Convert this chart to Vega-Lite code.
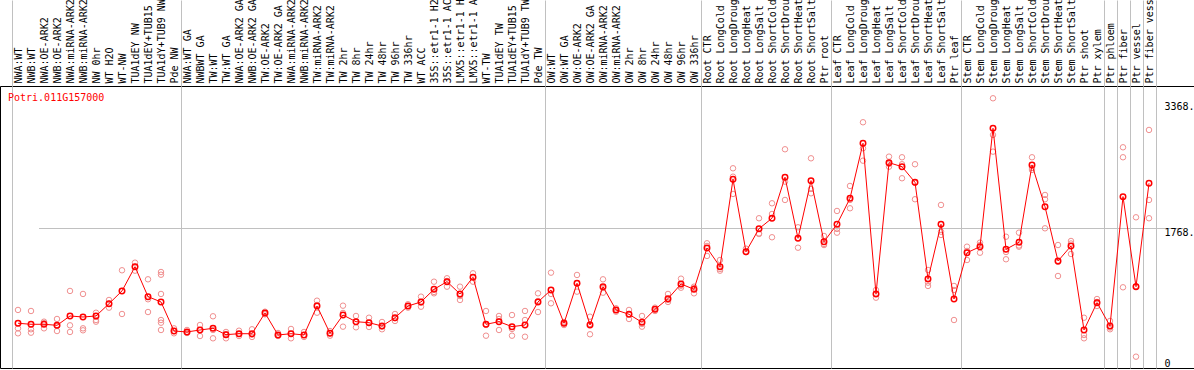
{
  "$schema": "https://vega.github.io/schema/vega-lite/v6.json",
  "width": 1194,
  "height": 282,
  "autosize": "none",
  "padding": {"top": 86, "left": 0, "right": 0, "bottom": 2},
  "background": "white",
  "config": {
    "view": {"stroke": "black", "strokeWidth": 1},
    "font": "DejaVu Sans Mono",
    "axis": {"labelFont": "DejaVu Sans Mono", "labelFontSize": 10, "labelColor": "black"}
  },
  "title": {
    "text": "Potri.011G157000",
    "color": "#ff0000",
    "font": "DejaVu Sans Mono",
    "fontSize": 10,
    "fontWeight": "normal",
    "anchor": "start",
    "frame": "group",
    "baseline": "middle",
    "offset": 0,
    "dx": 8,
    "dy": 127
  },
  "data": {
    "values": [
      {"k": "01|NWA:WT", "v": 565, "reps": [733, 501, 438]},
      {"k": "02|NWB:WT", "v": 552, "reps": [720, 489, 446]},
      {"k": "03|NWA:OE-ARK2", "v": 552, "reps": [585, 501, 568]},
      {"k": "04|NWB:OE-ARK2", "v": 539, "reps": [619, 467, 530]},
      {"k": "05|NWA:miRNA-ARK2", "v": 657, "reps": [973, 539, 455]},
      {"k": "06|NWB:miRNA-ARK2", "v": 644, "reps": [935, 501, 476]},
      {"k": "07|NW 0hr", "v": 657, "reps": [698, 606, 585]},
      {"k": "08|WT H2O", "v": 812, "reps": [762, 812, 859]},
      {"k": "09|WT-NW", "v": 973, "reps": [1234, 682, 973]},
      {"k": "10|TUA1dEY NW", "v": 1279, "reps": [1330, 1279, 1229]},
      {"k": "11|TUA1dEY+TUB15 NW", "v": 901, "reps": [1120, 707, 868]},
      {"k": "12|TUA1dY+TUB9 NW", "v": 834, "reps": [1212, 1178, 935, 606, 572, 480]},
      {"k": "13|Pde NW", "v": 467, "reps": [501, 438, 467]},
      {"k": "14|NWA:WT GA", "v": 455, "reps": [480, 442, 455]},
      {"k": "15|NWBWT GA", "v": 480, "reps": [543, 404, 480]},
      {"k": "16|TW:WT", "v": 501, "reps": [653, 375, 480]},
      {"k": "17|TW:WT GA", "v": 421, "reps": [455, 375, 429]},
      {"k": "18|NWA:OE-ARK2 GA", "v": 433, "reps": [471, 404, 429]},
      {"k": "19|NWB:OE-ARK2 GA", "v": 433, "reps": [489, 392, 421]},
      {"k": "20|TW:OE-ARK2", "v": 695, "reps": [711, 695, 678]},
      {"k": "21|TW:OE-ARK2 GA", "v": 417, "reps": [442, 404, 417]},
      {"k": "22|NWA:miRNA-ARK2", "v": 433, "reps": [493, 375, 433]},
      {"k": "23|NWB:miRNA-ARK2", "v": 417, "reps": [455, 392, 417]},
      {"k": "24|TW:miRNA-ARK2", "v": 783, "reps": [850, 698, 796]},
      {"k": "25|TW:miRNA-ARK2", "v": 438, "reps": [467, 408, 438]},
      {"k": "26|TW 2hr", "v": 669, "reps": [787, 522, 695]},
      {"k": "27|TW 8hr", "v": 585, "reps": [657, 514, 581]},
      {"k": "28|TW 24hr", "v": 572, "reps": [635, 518, 568]},
      {"k": "29|TW 48hr", "v": 530, "reps": [581, 489, 524]},
      {"k": "30|TW 96hr", "v": 635, "reps": [682, 594, 630]},
      {"k": "31|TW 336hr", "v": 783, "reps": [805, 762, 783]},
      {"k": "32|WT ACC", "v": 834, "reps": [901, 774, 827]},
      {"k": "33|35S::etr1-1 H2O", "v": 994, "reps": [1090, 943, 960]},
      {"k": "34|35S::etr1-1 ACC", "v": 1090, "reps": [1133, 1027, 1099]},
      {"k": "35|LMX5::etr1-1 H2O", "v": 935, "reps": [1027, 859, 909]},
      {"k": "36|LMX5::etr1-1 ACC", "v": 1146, "reps": [1196, 1090, 1149]},
      {"k": "37|WT-TW", "v": 552, "reps": [720, 408, 543]},
      {"k": "38|TUA1dEY TW", "v": 585, "reps": [657, 480, 619]},
      {"k": "39|TUA1dEY+TUB15 TW", "v": 522, "reps": [669, 408, 493]},
      {"k": "40|TUA1dY+TUB9 TW", "v": 543, "reps": [720, 606, 395]},
      {"k": "41|Pde TW", "v": 834, "reps": [943, 707, 846]},
      {"k": "42|OW:WT", "v": 985, "reps": [1204, 817, 935]},
      {"k": "43|OW:WT GA", "v": 565, "reps": [581, 543, 565]},
      {"k": "44|OW:OE-ARK2", "v": 1070, "reps": [1175, 964, 1070]},
      {"k": "45|OW:OE-ARK2 GA", "v": 543, "reps": [648, 426, 556]},
      {"k": "46|OW:miRNA-ARK2", "v": 1027, "reps": [1120, 951, 1010]},
      {"k": "47|OW:miRNA-ARK2", "v": 733, "reps": [754, 711, 733]},
      {"k": "48|OW 2hr", "v": 678, "reps": [733, 619, 682]},
      {"k": "49|OW 8hr", "v": 577, "reps": [657, 522, 556]},
      {"k": "50|OW 24hr", "v": 741, "reps": [762, 720, 741]},
      {"k": "51|OW 48hr", "v": 875, "reps": [935, 859, 834]},
      {"k": "52|OW 96hr", "v": 1061, "reps": [1128, 1039, 1014]},
      {"k": "53|OW 336hr", "v": 994, "reps": [1027, 943, 1010]},
      {"k": "54|Root CTR", "v": 1516, "reps": [1575, 1415, 1541]},
      {"k": "55|Root LongCold", "v": 1279, "reps": [1364, 1229, 1250]},
      {"k": "56|Root LongDrought", "v": 2383, "reps": [2522, 2416, 2198]},
      {"k": "57|Root LongHeat", "v": 1469, "reps": [1507, 1461, 1469]},
      {"k": "58|Root LongSalt", "v": 1759, "reps": [1891, 1701, 1692]},
      {"k": "59|Root ShortCold", "v": 1891, "reps": [2080, 1945, 1651]},
      {"k": "60|Root ShortDrought", "v": 2409, "reps": [2762, 2353, 2122]},
      {"k": "61|Root ShortHeat", "v": 1638, "reps": [1777, 1519, 1642]},
      {"k": "62|Root ShortSalt", "v": 2366, "reps": [2648, 2261, 2206]},
      {"k": "63|Ptr root", "v": 1595, "reps": [1667, 1553, 1566]},
      {"k": "64|Leaf CTR", "v": 1815, "reps": [1983, 1709, 1756]},
      {"k": "65|Leaf LongCold", "v": 2143, "reps": [2299, 2017, 2122]},
      {"k": "66|Leaf LongDrought", "v": 2838, "reps": [3103, 2775, 2618]},
      {"k": "67|Leaf LongHeat", "v": 935, "reps": [985, 888, 935]},
      {"k": "68|Leaf LongSalt", "v": 2593, "reps": [2669, 2542, 2577]},
      {"k": "69|Leaf ShortCold", "v": 2542, "reps": [2661, 2396, 2573]},
      {"k": "70|Leaf ShortDrought", "v": 2345, "reps": [2573, 2131, 2337]},
      {"k": "71|Leaf ShortHeat", "v": 1124, "reps": [1238, 1078, 1036]},
      {"k": "72|Leaf ShortSalt", "v": 1815, "reps": [2059, 1721, 1680]},
      {"k": "73|Ptr leaf", "v": 871, "reps": [1036, 985, 606]},
      {"k": "74|Stem CTR", "v": 1456, "reps": [1532, 1364, 1478]},
      {"k": "75|Stem LongCold", "v": 1532, "reps": [1583, 1456, 1553]},
      {"k": "76|Stem LongDrought", "v": 3027, "reps": [3406, 2943, 2732]},
      {"k": "77|Stem LongHeat", "v": 1499, "reps": [1658, 1373, 1465]},
      {"k": "78|Stem LongSalt", "v": 1588, "reps": [1709, 1532, 1547]},
      {"k": "79|Stem ShortCold", "v": 2564, "reps": [2661, 2501, 2526]},
      {"k": "80|Stem ShortDrought", "v": 2037, "reps": [2185, 2131, 1764]},
      {"k": "81|Stem ShortHeat", "v": 1351, "reps": [1553, 1162, 1339]},
      {"k": "82|Stem ShortSalt", "v": 1541, "reps": [1604, 1440, 1572]},
      {"k": "83|Ptr shoot", "v": 480, "reps": [635, 417, 375]},
      {"k": "84|Ptr xylem", "v": 825, "reps": [871, 834, 783]},
      {"k": "85|Ptr phloem", "v": 530, "reps": [594, 489, 511]},
      {"k": "86|Ptr fiber", "v": 2164, "reps": [2787, 2661, 1019]},
      {"k": "87|Ptr vessel", "v": 1027, "reps": [1903, 143, 1035]},
      {"k": "88|Ptr fiber vessel", "v": 2333, "reps": [3006, 2122, 1891]}
    ]
  },
  "encoding": {
    "x": {
      "field": "k",
      "type": "nominal",
      "scale": {"type": "band", "range": [11.5, 1155.5], "paddingInner": 0, "paddingOuter": 0},
      "axis": {
        "orient": "top",
        "title": null,
        "labelAngle": -90,
        "labelAlign": "left",
        "labelBaseline": "middle",
        "labelPadding": -83,
        "labelLimit": 300,
        "labelOverlap": false,
        "labelBound": false,
        "labelExpr": "split(datum.value, '|')[1]",
        "domain": false,
        "ticks": true,
        "tickSize": 86,
        "tickBand": "extent",
        "tickColor": "#c0c0c0",
        "tickWidth": 1,
        "tickOpacity": {"condition": {"test": "datum.extra || indexof(['13|Pde NW','41|Pde TW','53|OW 336hr','63|Ptr root','73|Ptr leaf','84|Ptr xylem','85|Ptr phloem','86|Ptr fiber','87|Ptr vessel','88|Ptr fiber vessel'], datum.value) >= 0", "value": 1}, "value": 0},
        "grid": true,
        "gridColor": "#c0c0c0",
        "gridWidth": 1,
        "gridOpacity": {"condition": {"test": "datum.extra || indexof(['13|Pde NW','41|Pde TW','53|OW 336hr','63|Ptr root','73|Ptr leaf','84|Ptr xylem','85|Ptr phloem','86|Ptr fiber','87|Ptr vessel','88|Ptr fiber vessel'], datum.value) >= 0", "value": 1}, "value": 0}
      }
    },
    "y": {
      "field": "v",
      "type": "quantitative",
      "scale": {"domain": [0, 3561], "nice": false, "zero": true},
      "axis": {
        "orient": "right",
        "title": null,
        "values": [0, 1768, 3368],
        "labelExpr": "datum.value == 0 ? '0' : datum.value + '.'",
        "labelAlign": "left",
        "labelBaseline": {"condition": {"test": "datum.value == 0", "value": "bottom"}, "value": "top"},
        "labelPadding": -30,
        "labelFlush": false,
        "ticks": false,
        "tickSize": 0,
        "domain": false,
        "grid": true,
        "gridColor": "#c0c0c0",
        "gridOpacity": {"condition": {"test": "datum.value == 1768", "value": 1}, "value": 0}
      }
    }
  },
  "layer": [
    {
      "transform": [{"flatten": ["reps"], "as": ["v"]}],
      "mark": {"type": "point", "shape": "circle", "filled": false, "stroke": "#f09090", "strokeWidth": 1, "size": 30, "opacity": 1}
    },
    {
      "mark": {"type": "line", "color": "#ff0000", "strokeWidth": 1}
    },
    {
      "mark": {"type": "point", "shape": "circle", "filled": false, "stroke": "#ff0000", "strokeWidth": 1.5, "size": 30, "opacity": 1}
    }
  ]
}
